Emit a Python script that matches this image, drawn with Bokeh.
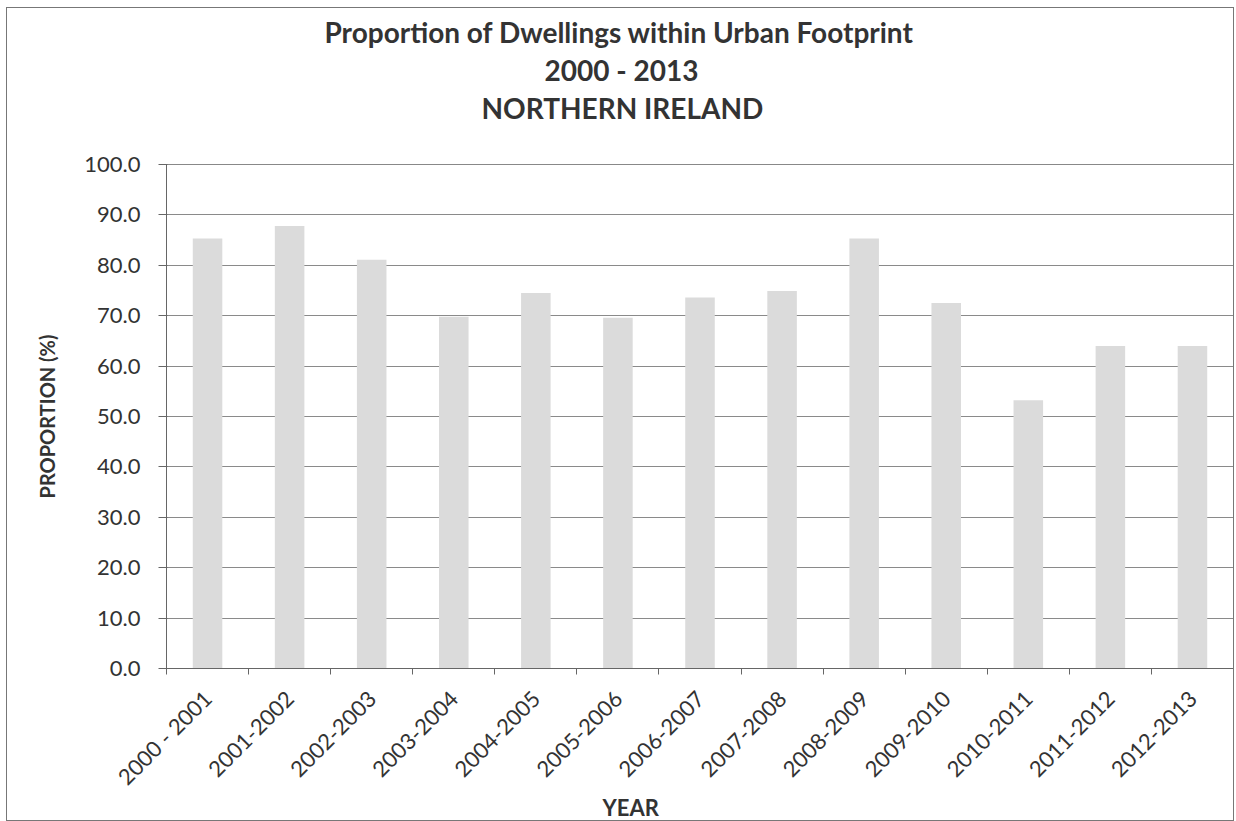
from bokeh.plotting import figure
from bokeh.models import (ColumnDataSource, FixedTicker, Range1d, Title,
                          PrintfTickFormatter)
from bokeh.embed import file_html
from bokeh.resources import INLINE
import math

years = ["2000 - 2001", "2001-2002", "2002-2003", "2003-2004", "2004-2005",
         "2005-2006", "2006-2007", "2007-2008", "2008-2009", "2009-2010",
         "2010-2011", "2011-2012", "2012-2013"]
proportion = [85.3, 87.8, 81.1, 69.8, 74.5, 69.6, 73.6, 74.9, 85.3, 72.5,
              53.2, 64.0, 64.0]
y_ticks = [0, 10, 20, 30, 40, 50, 60, 70, 80, 90, 100]
title_lines = ["Proportion of Dwellings within Urban Footprint", "2000 - 2013",
               "NORTHERN IRELAND"]

FONT = "Lato"
TXT = "#333333"

n = len(years)
centers = [i + 0.5 for i in range(n)]
bounds = [float(i) for i in range(n + 1)]

src = ColumnDataSource(dict(x=centers, top=proportion, label=years))

W, H = 1228, 814
p = figure(width=W, height=H, output_backend="svg", toolbar_location=None,
           x_range=Range1d(0, n), y_range=Range1d(0, 100),
           min_border_left=159, min_border_right=2, min_border_top=156,
           min_border_bottom=154)
p.styles = {"border": "1px solid #777777", "box-sizing": "border-box",
            "margin": "7px 0 0 6px"}
p.outline_line_color = "#888888"
p.background_fill_color = "white"
p.border_fill_color = "white"
p.title.visible = False

p.vbar(x="x", top="top", width=0.36, bottom=0, source=src,
       fill_color="#dbdbdb", line_color=None)

# Y axis
p.yaxis.ticker = FixedTicker(ticks=y_ticks)
p.yaxis.formatter = PrintfTickFormatter(format="%.1f")
p.yaxis.major_tick_out = 8
p.yaxis.major_tick_in = 1
p.yaxis.minor_tick_line_color = None
p.yaxis.axis_line_color = "#666666"
p.yaxis.major_tick_line_color = "#666666"
p.yaxis.major_label_text_font = FONT
p.yaxis.major_label_text_font_size = "22px"
p.yaxis.major_label_text_color = TXT
p.yaxis.major_label_standoff = 18
p.yaxis.axis_label = "PROPORTION (%)"
p.yaxis.axis_label_text_font = FONT
p.yaxis.axis_label_text_font_size = "20px"
p.yaxis.axis_label_text_font_style = "bold"
p.yaxis.axis_label_text_color = TXT
p.yaxis.axis_label_standoff = 22

# X axis
p.xaxis.ticker = FixedTicker(ticks=centers, minor_ticks=bounds)
p.xaxis.major_label_overrides = {c: lab for c, lab in zip(centers, years)}
p.xaxis.major_tick_line_color = None
p.xaxis.minor_tick_out = 6
p.xaxis.minor_tick_in = 0
p.xaxis.minor_tick_line_color = "#666666"
p.xaxis.axis_line_color = "#666666"
p.xaxis.major_label_orientation = math.pi / 4
p.xaxis.major_label_text_font = FONT
p.xaxis.major_label_text_font_size = "22px"
p.xaxis.major_label_text_color = TXT
p.xaxis.major_label_standoff = 20

p.xgrid.grid_line_color = None
p.ygrid.ticker = FixedTicker(ticks=y_ticks)
p.ygrid.grid_line_color = "#8a8a8a"
p.ygrid.grid_line_width = 1

# x-axis title (tight panel so the frame keeps its place)
p.add_layout(Title(text="YEAR", align="left", offset=436,
                   vertical_align="top",
                   text_font=FONT, text_font_size="22px",
                   text_font_style="bold", text_color=TXT, standoff=-18),
             "below")

# spacer between frame and title block (first added sits closest to plot)
p.add_layout(Title(text=" ", align="left", text_font_size="1px",
                   standoff=36), "above")
# title lines, nearest-to-plot first; offsets centre them on the chart area
for t, off in zip(reversed(title_lines), [315, 378, 158]):
    p.add_layout(Title(text=t, align="left", offset=off,
                       text_font=FONT, text_font_size="28px",
                       text_font_style="bold", text_color=TXT,
                       standoff=2), "above")

open("out.html", "w").write(file_html(p, INLINE))
